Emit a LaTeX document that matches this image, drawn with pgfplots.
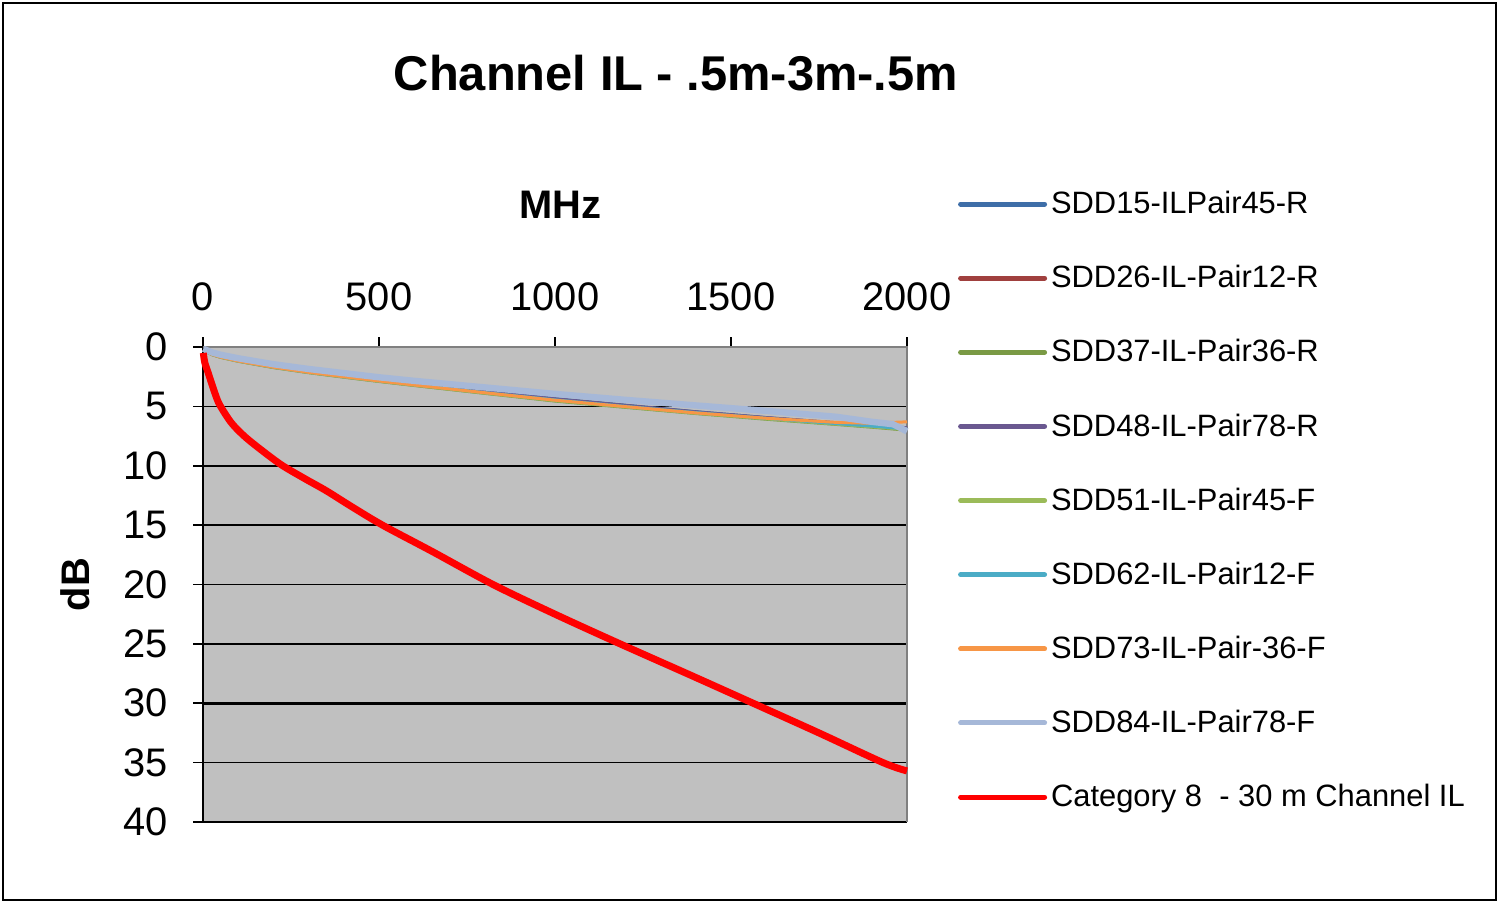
\documentclass[border=0pt]{standalone}
\usepackage{fontspec}
\setmainfont{Liberation Sans}
\usepackage{pgfplots}
\pgfplotsset{compat=1.18}

\definecolor{s15}{HTML}{3E6EA8}
\definecolor{s26}{HTML}{A0403E}
\definecolor{s37}{HTML}{7A9A45}
\definecolor{s48}{HTML}{6A5890}
\definecolor{s51}{HTML}{9BBB59}
\definecolor{s62}{HTML}{4BACC6}
\definecolor{s73}{HTML}{F79646}
\definecolor{s84}{HTML}{A6B8D8}
\definecolor{plotbg}{HTML}{C0C0C0}

\begin{document}
\begin{tikzpicture}
\useasboundingbox (0,0) rectangle (749.5bp,451.5bp);
\draw[black, line width=1bp] (1.5bp,1.5bp) rectangle (748bp,450bp);
\node at (338bp,415bp) {\bfseries\fontsize{24.5}{29}\selectfont Channel IL - .5m-3m-.5m};

\begin{axis}[
    at={(101.5bp,40.5bp)}, anchor=south west,
    width=352bp, height=237.5bp, scale only axis,
    xmin=0, xmax=2000, ymin=0, ymax=40,
    y dir=reverse,
    axis x line*=top, axis y line*=left,
    axis line style={black, line width=0.8bp},
    axis background/.style={fill=plotbg},
    xtick={0,500,...,2000},
    ytick={0,5,...,40},
    extra y ticks={30}, extra y tick labels={},
    extra y tick style={grid style={black, line width=1.6bp}},
    ymajorgrids=true,
    grid style={black, line width=0.8bp},
    tick align=outside,
    major tick length=5bp,
    tick style={black, line width=0.8bp},
    /pgf/number format/assume math mode=true,
    /pgf/number format/1000 sep={},
    tick label style={font=\fontsize{20}{24}\selectfont},
    xticklabel style={inner sep=0pt, yshift=13bp},
    yticklabel style={inner sep=0pt, xshift=-12.5bp},
    xlabel={\bfseries MHz},
    xlabel style={font=\fontsize{20}{24}\selectfont, at={(axis description cs:0.508,1.30)}, anchor=center},
    ylabel={\bfseries dB},
    ylabel style={font=\fontsize{20}{24}\selectfont, at={(axis description cs:-0.182,0.5)}, anchor=center},
    legend style={at={(axis description cs:1.072,1.337)}, anchor=north west, draw=none, fill=none,
        font=\fontsize{15.5}{18}\selectfont, row sep=20.4bp, inner sep=0pt, cells={anchor=west}},
    legend image code/.code={\draw[#1, line width=2.5bp, line cap=round] (0bp,0bp) -- (42bp,0bp);},
    clip=false,
]
\draw[gray, line width=1bp] (rel axis cs:0,1) -- (rel axis cs:1,1) -- (rel axis cs:1,0);

\addplot[s15, line width=1.5bp] coordinates {
(1,0.20) (25,0.58) (50,0.80) (100,1.12) (200,1.64) (300,2.06) (400,2.43) (500,2.78) (600,3.10)
(800,3.75) (1000,4.35) (1200,4.90) (1400,5.45) (1600,5.95) (1800,6.40) (1900,6.60) (2000,6.85)};
\addlegendentry{SDD15-ILPair45-R}

\addplot[s26, line width=1.5bp] coordinates {
(1,0.22) (25,0.60) (50,0.83) (100,1.16) (200,1.69) (300,2.10) (400,2.47) (500,2.82) (600,3.16)
(800,3.80) (1000,4.40) (1200,4.95) (1400,5.50) (1600,5.98) (1800,6.42) (1900,6.62) (2000,6.85)};
\addlegendentry{SDD26-IL-Pair12-R}

\addplot[s37, line width=1.5bp] coordinates {
(1,0.25) (25,0.64) (50,0.87) (100,1.20) (200,1.73) (300,2.16) (400,2.54) (500,2.90) (600,3.24)
(800,3.90) (1000,4.55) (1200,5.08) (1400,5.60) (1600,6.08) (1800,6.52) (1900,6.75) (2000,7.00)};
\addlegendentry{SDD37-IL-Pair36-R}

\addplot[s48, line width=1.5bp] coordinates {
(1,0.20) (25,0.60) (50,0.82) (100,1.15) (200,1.67) (300,2.09) (400,2.46) (500,2.80) (600,3.13)
(800,3.76) (1000,4.36) (1200,4.92) (1400,5.46) (1600,5.94) (1800,6.38) (1900,6.58) (2000,6.80)};
\addlegendentry{SDD48-IL-Pair78-R}

\addplot[s51, line width=1.5bp] coordinates {
(1,0.24) (25,0.63) (50,0.86) (100,1.19) (200,1.72) (300,2.14) (400,2.52) (500,2.88) (600,3.22)
(800,3.88) (1000,4.52) (1200,5.05) (1400,5.58) (1600,6.05) (1800,6.50) (1900,6.72) (2000,6.95)};
\addlegendentry{SDD51-IL-Pair45-F}

\addplot[s62, line width=1.5bp] coordinates {
(1,0.22) (25,0.61) (50,0.84) (100,1.17) (200,1.70) (300,2.12) (400,2.50) (500,2.85) (600,3.18)
(800,3.83) (1000,4.45) (1200,5.00) (1400,5.52) (1600,6.00) (1800,6.45) (1900,6.66) (2000,6.90)};
\addlegendentry{SDD62-IL-Pair12-F}

\addplot[s73, line width=1.5bp] coordinates {
(1,0.23) (25,0.62) (50,0.85) (100,1.18) (200,1.70) (300,2.13) (400,2.50) (500,2.86) (600,3.20)
(800,3.85) (1000,4.48) (1200,5.02) (1400,5.55) (1600,6.00) (1800,6.35) (1900,6.42) (2000,6.30)};
\addlegendentry{SDD73-IL-Pair-36-F}

\addplot[s84, line width=3.2bp] coordinates {
(1,0.15) (25,0.45) (50,0.65) (100,0.95) (200,1.45) (300,1.85) (400,2.20) (500,2.55) (600,2.85)
(800,3.40) (1000,3.95) (1200,4.45) (1400,4.92) (1600,5.38) (1800,5.88) (1900,6.30) (1960,6.50) (2000,7.10)};
\addlegendentry{SDD84-IL-Pair78-F}

\addplot[red, line width=3.5bp, smooth, tension=0.5] coordinates {
(1,0.5) (5,1.3) (15,2.2) (34,3.9) (48,4.9) (81,6.4) (119,7.55) (167,8.7) (224,9.95) (290,11.1)
(350,12.1) (420,13.4) (510,15.0) (650,17.2) (824,20.0) (1000,22.5) (1185,25.0) (1375,27.5)
(1563,30.0) (1750,32.5) (1932,35.0) (2000,35.7)};
\addlegendentry{Category 8\ \ - 30 m Channel IL}
\end{axis}
\end{tikzpicture}
\end{document}
